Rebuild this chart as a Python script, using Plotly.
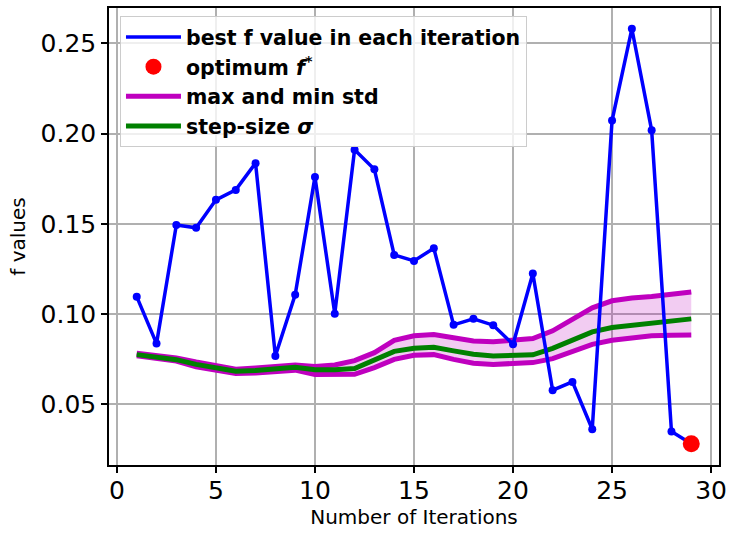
import plotly.graph_objects as go

# iteration index
iterations = list(range(1, 30))

# best objective value found in each iteration
best_f = [0.1097, 0.0837, 0.1494, 0.1478, 0.1633, 0.1688, 0.1836, 0.0769, 0.1107,
          0.1760, 0.1003, 0.1910, 0.1802, 0.1328, 0.1295, 0.1365, 0.0941, 0.0974,
          0.0939, 0.0833, 0.1225, 0.0579, 0.0625, 0.0363, 0.2072, 0.2580, 0.2018,
          0.0350, 0.0283]

# upper / lower std envelope
std_max = [0.0784, 0.0772, 0.0758, 0.0735, 0.0712, 0.0695, 0.0702, 0.0712, 0.0719,
           0.0710, 0.0719, 0.0743, 0.0787, 0.0855, 0.0880, 0.0887, 0.0869, 0.0852,
           0.0847, 0.0855, 0.0865, 0.0908, 0.0972, 0.1035, 0.1074, 0.1090, 0.1098,
           0.1110, 0.1123]
std_min = [0.0770, 0.0758, 0.0740, 0.0708, 0.0690, 0.0671, 0.0675, 0.0680, 0.0690,
           0.0666, 0.0666, 0.0667, 0.0704, 0.0750, 0.0772, 0.0776, 0.0750, 0.0728,
           0.0722, 0.0730, 0.0732, 0.0754, 0.0797, 0.0833, 0.0856, 0.0867, 0.0880,
           0.0883, 0.0885]

# step size sigma
sigma = [0.0776, 0.0765, 0.0748, 0.0722, 0.0702, 0.0684, 0.0688, 0.0695, 0.0706,
         0.0692, 0.0692, 0.0699, 0.0747, 0.0794, 0.0811, 0.0817, 0.0797, 0.0778,
         0.0769, 0.0775, 0.0775, 0.0811, 0.0858, 0.0902, 0.0926, 0.0939, 0.0950,
         0.0961, 0.0974]

# optimum
opt_iter = [29]
opt_f = [0.0283]

BLUE = "#0000ff"
MAGENTA = "#bf00bf"
GREEN = "#008000"
RED = "#ff0000"

fig = go.Figure()

# shaded band between min and max std
fig.add_trace(go.Scatter(x=iterations, y=std_min, mode="lines",
                         line=dict(width=0, color=MAGENTA),
                         showlegend=False, hoverinfo="skip"))
fig.add_trace(go.Scatter(x=iterations, y=std_max, mode="lines",
                         line=dict(width=0, color=MAGENTA),
                         fill="tonexty", fillcolor="rgba(191,0,191,0.2)",
                         showlegend=False, hoverinfo="skip"))

fig.add_trace(go.Scatter(x=iterations, y=std_max, mode="lines",
                         line=dict(color=MAGENTA, width=5),
                         name="max and min std", legendrank=3, legendgroup="c"))
fig.add_trace(go.Scatter(x=iterations, y=std_min, mode="lines",
                         line=dict(color=MAGENTA, width=5),
                         showlegend=False, legendgroup="c"))
fig.add_trace(go.Scatter(x=iterations, y=sigma, mode="lines",
                         line=dict(color=GREEN, width=5),
                         name="step-size <i>σ</i>", legendrank=4, legendgroup="d"))

fig.add_trace(go.Scatter(x=iterations, y=best_f, mode="lines",
                         line=dict(color=BLUE, width=3.5),
                         name="best f value in each iteration", legendrank=1,
                         legendgroup="a"))
fig.add_trace(go.Scatter(x=iterations, y=best_f, mode="markers",
                         marker=dict(color=BLUE, size=8),
                         showlegend=False, legendgroup="a"))

fig.add_trace(go.Scatter(x=opt_iter, y=opt_f, mode="markers",
                         marker=dict(color=RED, size=17),
                         name="optimum <i>f</i><sup>*</sup>", legendrank=2,
                         legendgroup="b"))

axis_common = dict(
    showline=True, linecolor="black", linewidth=1.5, mirror=True,
    ticks="outside", ticklen=6, tickwidth=1.5, tickcolor="black",
    showgrid=True, gridcolor="#b0b0b0", gridwidth=1.5,
    zeroline=False,
    tickfont=dict(family="DejaVu Sans", size=25, color="black"),
)

fig.update_xaxes(range=[-0.4, 30.4], tickmode="array",
                 tickvals=[0, 5, 10, 15, 20, 25, 30],
                 ticklabelstandoff=-4,
                 title=dict(text="Number of Iterations",
                            font=dict(family="DejaVu Sans", size=20, color="black"),
                            standoff=4),
                 **axis_common)
fig.update_yaxes(range=[0.0165, 0.2695], tickmode="array",
                 tickvals=[0.05, 0.10, 0.15, 0.20, 0.25],
                 ticktext=["0.05", "0.10", "0.15", "0.20", "0.25"],
                 title=dict(text="f values",
                            font=dict(family="DejaVu Sans", size=20, color="black"),
                            standoff=10),
                 **axis_common)

fig.update_layout(
    width=733, height=534,
    margin=dict(l=109, r=8, t=6, b=69),
    plot_bgcolor="white", paper_bgcolor="white",
    legend=dict(x=0.018, y=0.982, xanchor="left", yanchor="top",
                traceorder="normal",
                bgcolor="rgba(255,255,255,0.8)", bordercolor="#cccccc", borderwidth=1,
                font=dict(family="DejaVu Sans", size=20.5, color="black", weight="bold"),
                itemwidth=55, tracegroupgap=10),
)

fig.write_html("out.html")
